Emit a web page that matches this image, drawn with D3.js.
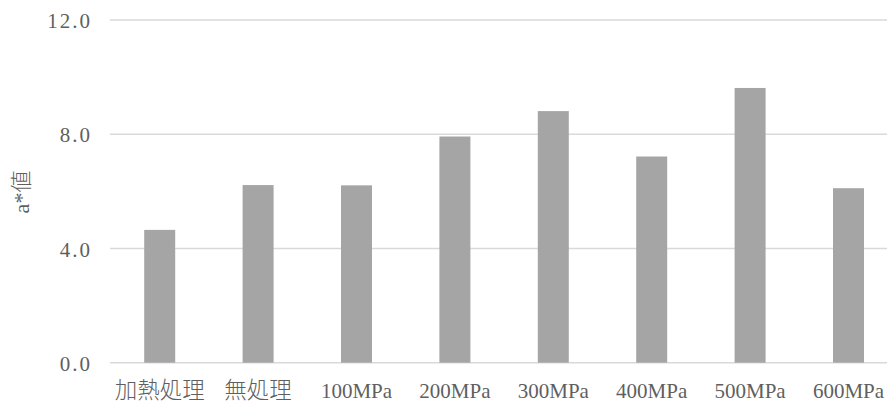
<!DOCTYPE html>
<html>
<head>
<meta charset="utf-8">
<script src="https://cdn.jsdelivr.net/npm/d3@7"></script>
<style>
  html, body { margin: 0; padding: 0; background: #ffffff; }
  svg { display: block; }
  .tick-y { font-family: "Liberation Serif", "Noto Sans CJK JP", serif; font-size: 21px; fill: #5f5f5f; letter-spacing: 2px; }
  .tick-x { font-family: "Liberation Serif", "Noto Sans CJK JP", serif; font-size: 21px; fill: #5f5f5f; font-weight: 300; }
  .tick-x .cjk { font-size: 22.5px; }
  .axis-title { font-family: "Liberation Serif", "Noto Sans CJK JP", serif; font-size: 22px; fill: #5f5f5f; font-weight: 300; }
</style>
</head>
<body>
<svg id="chart" width="887" height="403"></svg>
<script>
// Treatment groups and measured a* values
const categories = ["加熱処理", "無処理", "100MPa", "200MPa", "300MPa", "400MPa", "500MPa", "600MPa"];
const aValues = [4.65, 6.22, 6.21, 7.92, 8.81, 7.22, 9.62, 6.11];
const yTicks = [0, 4, 8, 12];
const yTickLabels = ["0.0", "4.0", "8.0", "12.0"];
const yTitle = "a*値";

const svg = d3.select("#chart");

const plot = { left: 110.5, right: 897.7, top: 20, bottom: 362.7 };

const x = d3.scaleBand()
  .domain(categories)
  .range([plot.left, plot.right])
  .paddingInner(0.685)
  .paddingOuter(0.3425);

const y = d3.scaleLinear()
  .domain([0, 12])
  .range([plot.bottom, plot.top]);

// Horizontal gridlines (the 0 line doubles as the baseline)
svg.append("g")
  .selectAll("line")
  .data(yTicks)
  .join("line")
  .attr("x1", plot.left - 0.5)
  .attr("x2", 887)
  .attr("y1", d => y(d))
  .attr("y2", d => y(d))
  .attr("stroke", "#d9d9d9")
  .attr("stroke-width", 1.5);

// Bars
svg.append("g")
  .selectAll("rect")
  .data(categories.map((c, i) => ({ c, v: aValues[i] })))
  .join("rect")
  .attr("x", d => x(d.c))
  .attr("width", x.bandwidth())
  .attr("y", d => y(d.v))
  .attr("height", d => y(0) - y(d.v))
  .attr("fill", "#a5a5a5");

// Y-axis labels
const yAxis = d3.axisLeft(y)
  .tickValues(yTicks)
  .tickFormat((d, i) => yTickLabels[i])
  .tickSize(0)
  .tickPadding(0);

const gy = svg.append("g")
  .attr("transform", "translate(92,0)")
  .call(yAxis);
gy.select(".domain").remove();
gy.selectAll("text")
  .attr("class", "tick-y")
  .attr("dy", "0.36em")
  .attr("fill", null);

// X-axis category labels
const xAxis = d3.axisBottom(x).tickSize(0).tickPadding(0);
const gx = svg.append("g")
  .attr("transform", `translate(0,${plot.bottom})`)
  .call(xAxis);
gx.select(".domain").remove();
gx.selectAll("text")
  .attr("class", d => /^[0-9]/.test(d) ? "tick-x" : "tick-x cjk")
  .style("font-size", d => /^[0-9]/.test(d) ? null : "22.5px")
  .attr("y", 35)
  .attr("dy", 0)
  .attr("fill", null);

// Y-axis title
svg.append("text")
  .attr("class", "axis-title")
  .attr("transform", "translate(29,192) rotate(-90)")
  .attr("text-anchor", "middle")
  .text(yTitle);
</script>
</body>
</html>
